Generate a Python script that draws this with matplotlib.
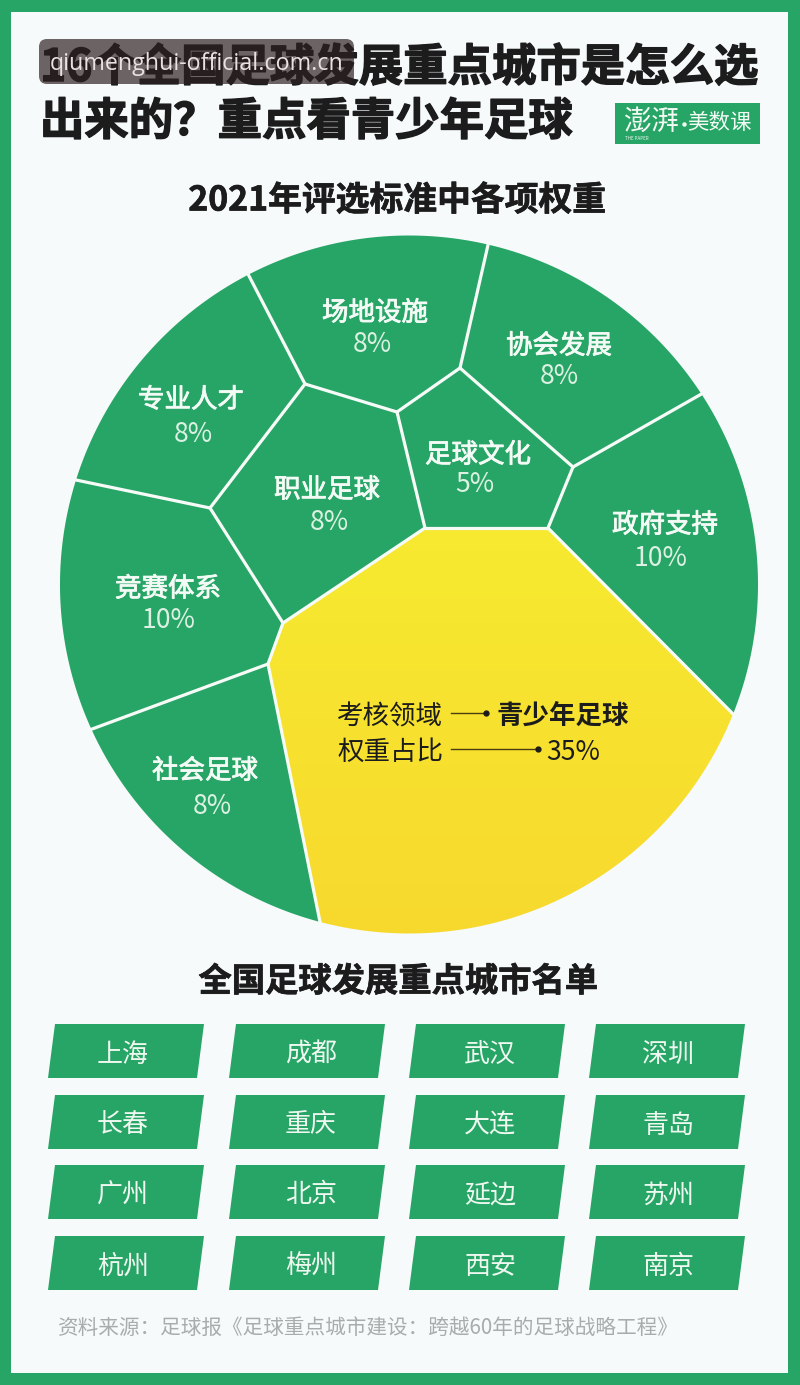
import numpy as np
from matplotlib import pyplot as plt
from matplotlib.colors import LinearSegmentedColormap
from matplotlib.patches import FancyBboxPatch, Polygon, Rectangle
import matplotlib.patheffects as pe

plt.rcParams['font.family'] = ['Noto Sans CJK SC', 'DejaVu Sans']

# data
areas = ["专业人才", "场地设施", "协会发展", "足球文化", "职业足球", "政府支持", "竞赛体系", "社会足球"]
weights = [8, 8, 8, 5, 8, 10, 10, 8]
main_area = "青少年足球"
main_weight = 35
cities = [["上海", "成都", "武汉", "深圳"],
          ["长春", "重庆", "大连", "青岛"],
          ["广州", "北京", "延边", "苏州"],
          ["杭州", "梅州", "西安", "南京"]]

title_1 = "16个全国足球发展重点城市是怎么选"
title_2 = "出来的？重点看青少年足球"
sub_1 = "2021年评选标准中各项权重"
sub_2 = "全国足球发展重点城市名单"
source = "资料来源：足球报《足球重点城市建设：跨越60年的足球战略工程》"
mark = "qiumenghui-official.com.cn"

GREEN = "#27a566"
BG = "#f6fafa"
DARK = "#1c1c1c"

# layout, all in image pixels
CX, CY, R = 409, 584.5, 349
DY = 3  # CJK text sits a little high with va=center

A = (305, 384)
B = (397, 412)
C = (460, 368)
D = (573, 467)
E = (548, 528)
F = (425, 528)
G = (283, 623)
H = (210, 508)
I = (268, 664)


def rim(deg):
    return (CX + R * np.cos(np.radians(deg)), CY + R * np.sin(np.radians(deg)))


def rim_at(p):
    return np.degrees(np.arctan2(p[1] - CY, p[0] - CX)) % 360


# where the walls meet the circle
r_a = rim_at((248, 274))
r_c = rim_at((488, 245))
r_d = rim_at((703, 393))
r_e = rim_at((733, 714))
r_i1 = rim_at((320, 922))
r_i2 = rim_at((92, 729))
r_h = rim_at((76, 480))


def arc(a0, a1, n=60):
    return [rim(t) for t in np.linspace(a0, a1, n)]


cells = {
    "专业人才": [A, H] + arc(r_h, r_a),
    "场地设施": [A, B, C] + arc(r_c, r_a),
    "协会发展": [C, D] + arc(r_d, r_c),
    "足球文化": [B, C, D, E, F],
    "职业足球": [A, B, F, G, H],
    "政府支持": [D, E] + arc(r_e, r_d - 360),
    "竞赛体系": [H, G, I] + arc(r_i2, r_h),
    "社会足球": [I] + arc(r_i1, r_i2),
}
main_cell = [F, E] + arc(r_e, r_i1) + [I, G]
walls = [(A, H), (A, B), (B, C), (C, D), (D, E), (E, F), (F, B), (F, G), (G, H), (G, I),
         (A, rim(r_a)), (C, rim(r_c)), (D, rim(r_d)), (E, rim(r_e)),
         (I, rim(r_i1)), (I, rim(r_i2)), (H, rim(r_h))]

# name position, percent position
label_pos = {
    "专业人才": ((191, 397), (193, 431)),
    "场地设施": ((375, 310), (372, 342)),
    "协会发展": ((559, 343), (559, 373)),
    "足球文化": ((478, 452), (475, 481)),
    "职业足球": ((327, 487), (329, 520)),
    "政府支持": ((665, 522), (661, 556)),
    "竞赛体系": ((168, 586), (169, 617)),
    "社会足球": ((205, 768), (212, 803)),
}

fig = plt.figure(figsize=(8, 13.85), dpi=100, facecolor=GREEN)
ax = fig.add_axes([0, 0, 1, 1])
ax.set_xlim(0, 800)
ax.set_ylim(1385, 0)
ax.axis("off")


def px(size):
    return size * 0.72


ax.add_patch(Rectangle((11, 12), 777, 1361, fc=BG, ec="none", zorder=0))

# title
heavy = [pe.withStroke(linewidth=1.0, foreground=DARK)]
ax.text(40, 65 + DY, title_1, fontsize=px(44.4), fontweight="bold", color=DARK, va="center", ha="left", path_effects=heavy)
ax.text(40, 119 + DY, title_2, fontsize=px(44.4), fontweight="bold", color=DARK, va="center", ha="left", path_effects=heavy)

# watermark over the title
ax.add_patch(FancyBboxPatch((39, 39), 315, 45, boxstyle="round,pad=0,rounding_size=8", mutation_scale=1,
                            fc="#2d1f21", ec="none", alpha=0.69, zorder=5))
ax.text(196.5, 64, mark, fontsize=px(23.3), color="#e8e2e2", family="Open Sans", ha="center", va="center", zorder=6)

# logo
ax.add_patch(Rectangle((615, 103), 145, 41, fc=GREEN, ec="none"))
ax.text(651, 122, "澎湃", fontsize=px(28), color="#f2faf4", ha="center", va="center")
ax.plot([684], [124], "o", color="#f2faf4", ms=2.2)
ax.text(719.5, 123, "美数课", fontsize=px(21.5), color="#f2faf4", ha="center", va="center")
ax.text(637, 138, "THE PAPER", fontsize=3.2, color="#f2faf4", ha="center", va="center")

sub_heavy = [pe.withStroke(linewidth=0.5, foreground=DARK)]
ax.text(397, 197 + DY, sub_1, fontsize=px(33.8), fontweight="bold", color=DARK, ha="center", va="center", path_effects=sub_heavy)
ax.text(398, 979 + DY, sub_2, fontsize=px(33.3), fontweight="bold", color=DARK, ha="center", va="center", path_effects=sub_heavy)

# voronoi circle
for name in areas:
    ax.add_patch(Polygon(cells[name], closed=True, fc=GREEN, ec="none", zorder=1))
yellow_cell = Polygon(main_cell, closed=True, fc="none", ec="none", zorder=1)
ax.add_patch(yellow_cell)
fade = LinearSegmentedColormap.from_list("fade", ["#f6ea30", "#f8d92e"])
img = ax.imshow(np.linspace(0, 1, 256).reshape(-1, 1), cmap=fade, extent=(260, 740, 934, 525),
                aspect="auto", zorder=1)
img.set_clip_path(yellow_cell)
ax.set_xlim(0, 800)
ax.set_ylim(1385, 0)
for p, q in walls:
    ax.plot([p[0], q[0]], [p[1], q[1]], color="#f7fbf8", lw=2.3, solid_capstyle="round", zorder=2)

label_heavy = [pe.withStroke(linewidth=0.6, foreground="#f4fbf6")]
for name, w in zip(areas, weights):
    name_xy, pct_xy = label_pos[name]
    ax.text(name_xy[0], name_xy[1] + DY, name, fontsize=px(26.5), color="#f4fbf6",
            ha="center", va="center", zorder=3, path_effects=label_heavy)
    ax.text(pct_xy[0], pct_xy[1] + DY, f"{w}%", fontsize=px(26.5), color="#dcf1e3", ha="center", va="center", zorder=3)

# callout in the yellow cell
ax.text(390, 714 + DY, "考核领域", fontsize=px(26.5), color=DARK, ha="center", va="center", zorder=3)
ax.text(390, 749 + DY, "权重占比", fontsize=px(26.5), color=DARK, ha="center", va="center", zorder=3)
ax.plot([451, 486], [713, 713], color="#4a3d10", lw=1, zorder=3)
ax.plot([451, 538], [749, 749], color="#4a3d10", lw=1, zorder=3)
ax.plot([486, 538], [713, 749], "o", color=DARK, ms=3.5, ls="none", zorder=3)
ax.text(563, 713 + DY, main_area, fontsize=px(26.5), fontweight="bold", color=DARK, ha="center", va="center", zorder=3)
ax.text(573, 750 + DY, f"{main_weight}%", fontsize=px(26.5), color=DARK, ha="center", va="center", zorder=3)

# city boxes
col_x = [48, 229, 409, 589]
row_y = [1024, 1095, 1165, 1236]
city_x = [123, 311, 490, 668]
box_w, box_h, slant = 149, 54, 7
for r, row in enumerate(cities):
    for c, city in enumerate(row):
        x, y = col_x[c], row_y[r]
        ax.add_patch(Polygon([(x + slant, y), (x + slant + box_w, y), (x + box_w, y + box_h), (x, y + box_h)],
                             closed=True, fc=GREEN, ec="none"))
        ax.text(city_x[c], y + 27 + DY, city, fontsize=px(26), color="#eef8f0", ha="center", va="center")

ax.text(58, 1325 + DY, source, fontsize=px(20.6), color="#a9acac", ha="left", va="center")

fig.savefig("out.png", dpi=100, facecolor=GREEN)
